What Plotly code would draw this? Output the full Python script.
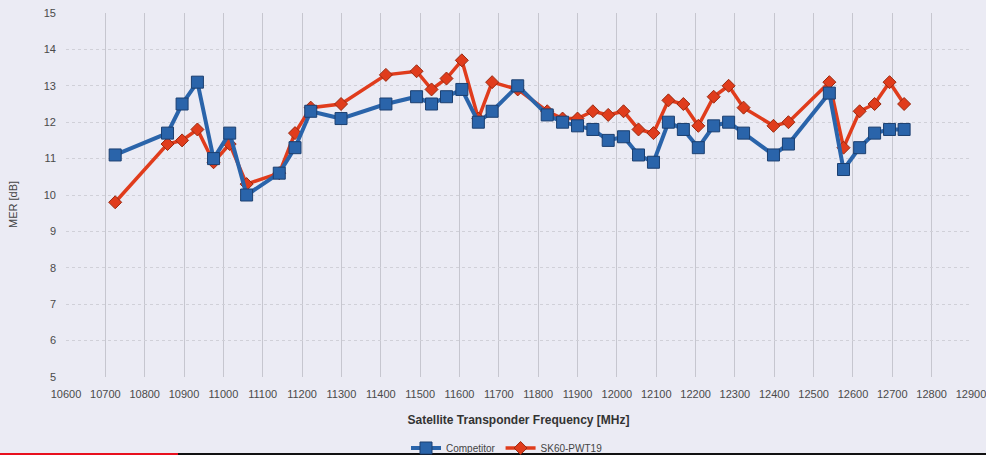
import plotly.graph_objects as go

freq = [10725, 10858, 10895, 10934, 10975, 11016, 11059, 11142, 11182, 11222,
        11299, 11413, 11491, 11529, 11567, 11606, 11648, 11683, 11748, 11823,
        11862, 11900, 11939, 11978, 12017, 12055, 12093, 12131, 12169, 12207,
        12246, 12284, 12322, 12398, 12436, 12540, 12576, 12617, 12655, 12693, 12730]

competitor = [11.1, 11.7, 12.5, 13.1, 11.0, 11.7, 10.0, 10.6, 11.3, 12.3,
              12.1, 12.5, 12.7, 12.5, 12.7, 12.9, 12.0, 12.3, 13.0, 12.2,
              12.0, 11.9, 11.8, 11.5, 11.6, 11.1, 10.9, 12.0, 11.8, 11.3,
              11.9, 12.0, 11.7, 11.1, 11.4, 12.8, 10.7, 11.3, 11.7, 11.8, 11.8]

sk60 = [9.8, 11.4, 11.5, 11.8, 10.9, 11.4, 10.3, 10.6, 11.7, 12.4,
        12.5, 13.3, 13.4, 12.9, 13.2, 13.7, 12.1, 13.1, 12.9, 12.3,
        12.1, 12.1, 12.3, 12.2, 12.3, 11.8, 11.7, 12.6, 12.5, 11.9,
        12.7, 13.0, 12.4, 11.9, 12.0, 13.1, 11.3, 12.3, 12.5, 13.1, 12.5]

x_ticks = list(range(10600, 12901, 100))
y_ticks = list(range(5, 16))

BG = "#ebebf4"
BLUE = "#2a64aa"
RED = "#e03c1c"

W, H = 986, 455
ML, MR, MT, MB = 66, 15, 13, 78
plot_w = W - ML - MR
plot_h = H - MT - MB


def px_x(px):
    return (px - ML) / plot_w


def px_y(py):
    return (H - MB - py) / plot_h


fig = go.Figure()
fig.add_trace(go.Scatter(
    x=freq, y=sk60, name="SK60-PWT19", mode="lines+markers", legendrank=2,
    line=dict(color=RED, width=3.5),
    marker=dict(symbol="diamond", size=10, color=RED, line=dict(color="#9a2a10", width=1)),
))
fig.add_trace(go.Scatter(
    x=freq, y=competitor, name="Competitor", mode="lines+markers", legendrank=1,
    line=dict(color=BLUE, width=4),
    marker=dict(symbol="square", size=12, color=BLUE, line=dict(color="#1b3f70", width=1)),
))

fig.update_layout(
    template="none",
    width=W, height=H,
    paper_bgcolor=BG, plot_bgcolor=BG,
    margin=dict(l=ML, r=MR, t=MT, b=MB, autoexpand=False),
    font=dict(family="Liberation Sans, Arial, sans-serif", color="#4a4a4a", size=11),
    showlegend=True,
    legend=dict(orientation="h", x=px_x(507), xanchor="center", y=px_y(448), yanchor="middle",
                font=dict(size=10, color="#444444"), bgcolor="rgba(0,0,0,0)",
                itemwidth=30, tracegroupgap=0),
    xaxis=dict(range=[10600, 12900], tickvals=x_ticks, ticktext=[str(v) for v in x_ticks],
               showgrid=True, gridcolor="#c6c6cf", gridwidth=1, zeroline=False,
               showline=False, ticks="", tickfont=dict(size=11, color="#4a4a4a"),
               ticklabelstandoff=9, automargin=False, ticklabeloverflow="allow",
               title=dict(text="<b>Satellite Transponder Frequency [MHz]</b>",
                          font=dict(size=12, color="#333333"), standoff=16)),
    yaxis=dict(range=[5, 15], tickvals=y_ticks, showgrid=True, gridcolor="#d0d0d8",
               griddash="dot", gridwidth=1, zeroline=False, showline=False, ticks="",
               tickfont=dict(size=11, color="#4a4a4a"), ticklabelstandoff=9, automargin=False,
               ticklabeloverflow="allow"),
    annotations=[dict(text="MER [dB]", x=px_x(13), y=px_y(205), xref="paper", yref="paper",
                      xanchor="center", yanchor="middle",
                      showarrow=False, textangle=-90, font=dict(size=11, color="#444444"))],
)

# bottom edge lines (red/black) seen in the reference
fig.add_shape(type="line", xref="paper", yref="paper",
              x0=px_x(0), x1=px_x(178), y0=px_y(454), y1=px_y(454),
              line=dict(color="#e8101e", width=2))
fig.add_shape(type="line", xref="paper", yref="paper",
              x0=px_x(178), x1=px_x(986), y0=px_y(454), y1=px_y(454),
              line=dict(color="#111111", width=2))

fig.write_html("out.html", config={"displayModeBar": False},
               post_script="document.body.style.margin='0';document.body.style.background='%s';" % BG)
